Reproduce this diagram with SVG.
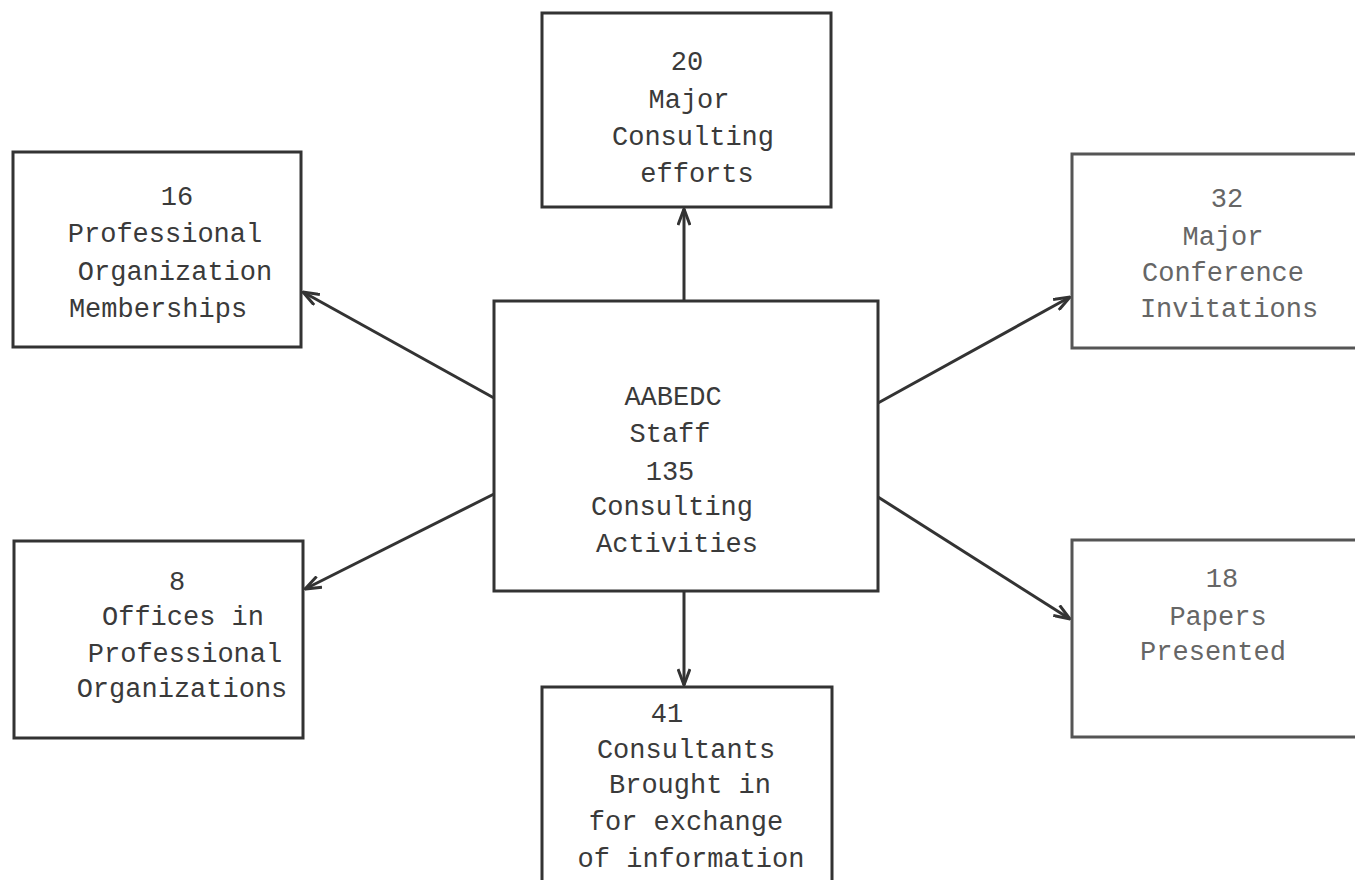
<svg xmlns="http://www.w3.org/2000/svg" width="1355" height="880" viewBox="0 0 1355 880">
<style>
.box{fill:#fff;stroke:#333;stroke-width:3}
.boxl{fill:#fff;stroke:#555;stroke-width:3}
.t{font-family:"Liberation Mono","DejaVu Sans Mono",monospace;font-size:27px;fill:#3a3a3a;text-anchor:middle}
.tl{font-family:"Liberation Mono","DejaVu Sans Mono",monospace;font-size:27px;fill:#666;text-anchor:middle}
.c{stroke:#333;stroke-width:3;fill:none;marker-end:url(#ah)}
</style>
<defs>
<marker id="ah" viewBox="0 0 18 14" refX="17" refY="7" markerWidth="18" markerHeight="14" orient="auto" markerUnits="userSpaceOnUse">
<path d="M1,1 L17,7 L1,13" fill="none" stroke="#333" stroke-width="3"/>
</marker>
</defs>
<rect width="1355" height="880" fill="#fff"/>
<g id="connectors">
<line class="c" x1="684" y1="301" x2="684" y2="209"/>
<line class="c" x1="494" y1="398" x2="303" y2="292"/>
<line class="c" x1="494" y1="494" x2="305" y2="589"/>
<line class="c" x1="878" y1="403" x2="1070" y2="297"/>
<line class="c" x1="878" y1="497" x2="1070" y2="619"/>
<line class="c" x1="684" y1="591" x2="684" y2="685"/>
</g>
<g id="center">
<rect class="box" x="494" y="301" width="384" height="290"/>
<text class="t" x="673" y="405">AABEDC</text>
<text class="t" x="670" y="442">Staff</text>
<text class="t" x="670" y="480">135</text>
<text class="t" x="672" y="515">Consulting</text>
<text class="t" x="677" y="552">Activities</text>
</g>
<g id="top">
<rect class="box" x="542" y="13" width="289" height="194"/>
<text class="t" x="687" y="70">20</text>
<text class="t" x="689" y="108">Major</text>
<text class="t" x="693" y="145">Consulting</text>
<text class="t" x="697" y="182">efforts</text>
</g>
<g id="left-top">
<rect class="box" x="13" y="152" width="288" height="195"/>
<text class="t" x="177" y="205">16</text>
<text class="t" x="165" y="242">Professional</text>
<text class="t" x="175" y="280">Organization</text>
<text class="t" x="158" y="317">Memberships</text>
</g>
<g id="left-bottom">
<rect class="box" x="14" y="541" width="289" height="197"/>
<text class="t" x="177" y="590">8</text>
<text class="t" x="183" y="625">Offices in</text>
<text class="t" x="185" y="662">Professional</text>
<text class="t" x="182" y="697">Organizations</text>
</g>
<g id="right-top">
<rect class="boxl" x="1072" y="154" width="295" height="194"/>
<text class="tl" x="1227" y="207">32</text>
<text class="tl" x="1223" y="245">Major</text>
<text class="tl" x="1223" y="281">Conference</text>
<text class="tl" x="1229" y="317">Invitations</text>
</g>
<g id="right-bottom">
<rect class="boxl" x="1072" y="540" width="295" height="197"/>
<text class="tl" x="1222" y="587">18</text>
<text class="tl" x="1218" y="625">Papers</text>
<text class="tl" x="1213" y="660">Presented</text>
</g>
<g id="bottom">
<rect class="box" x="542" y="687" width="290" height="200"/>
<text class="t" x="667" y="722">41</text>
<text class="t" x="686" y="758">Consultants</text>
<text class="t" x="690" y="793">Brought in</text>
<text class="t" x="686" y="830">for exchange</text>
<text class="t" x="691" y="867">of information</text>
</g>
</svg>
